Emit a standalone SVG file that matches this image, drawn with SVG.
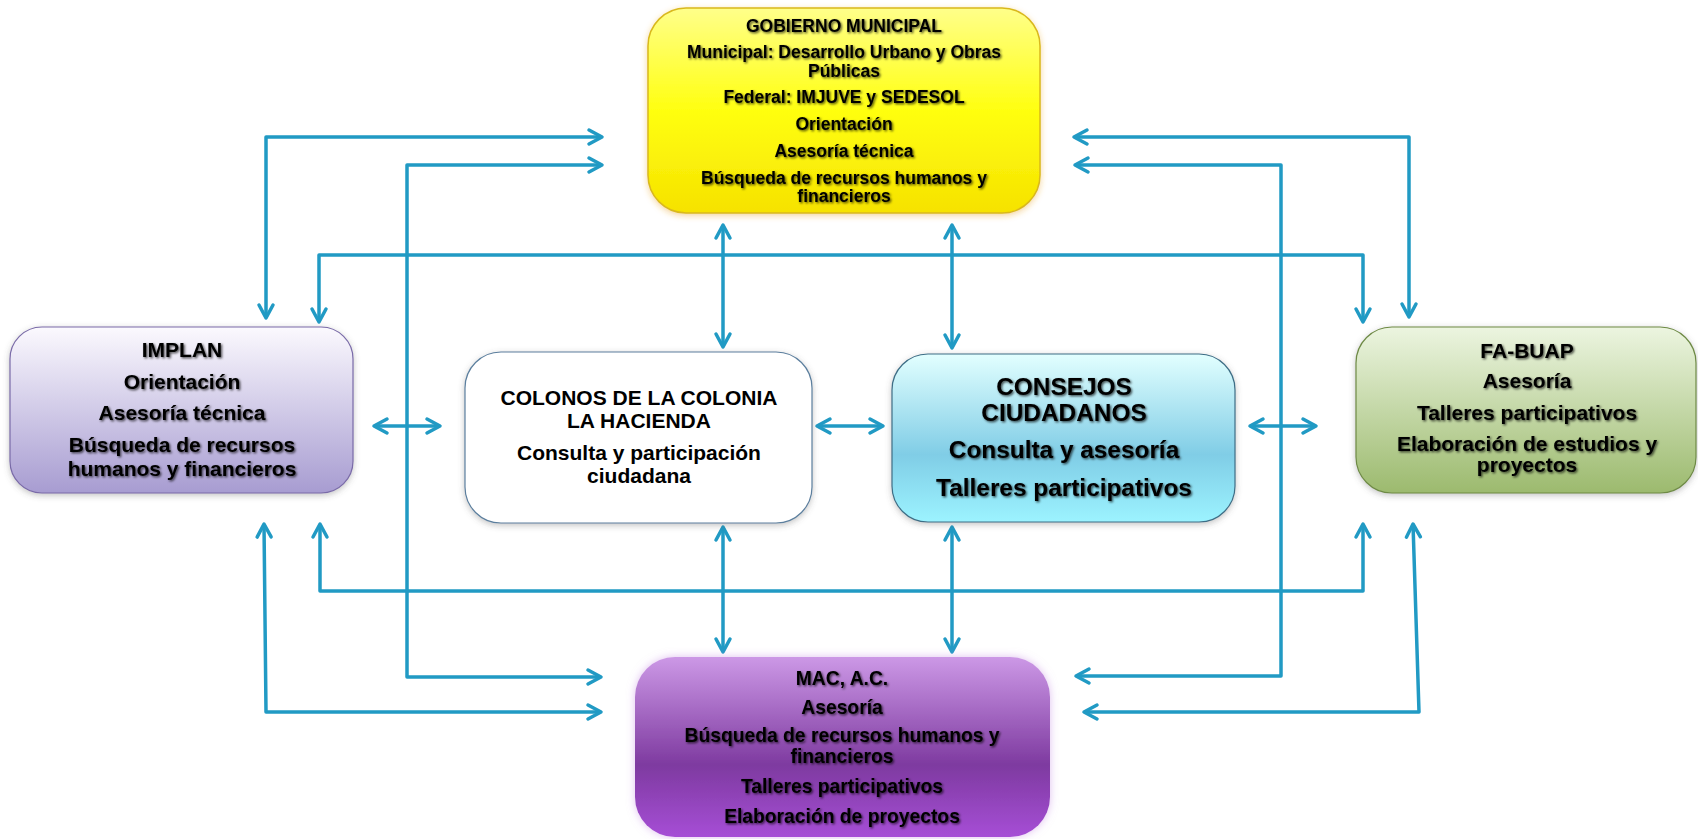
<svg xmlns="http://www.w3.org/2000/svg" width="1698" height="839" viewBox="0 0 1698 839">
<style>
  text { font-family: "Liberation Sans", Arial, sans-serif; font-weight: bold; fill: #000; text-anchor: middle; }
  .sh { filter: url(#tshadow); }
  .conn { fill: none; stroke: #219AC4; stroke-width: 3.5; stroke-linejoin: round; marker-start: url(#arr); marker-end: url(#arr); }
</style>
<defs>
  <marker id="arr" viewBox="-16 -10 20 20" markerWidth="20" markerHeight="20" refX="0" refY="0" markerUnits="userSpaceOnUse" orient="auto-start-reverse">
    <path d="M-13,-7 L0,0 L-13,7" fill="none" stroke="#219AC4" stroke-width="3.5" stroke-linecap="round" stroke-linejoin="round"/>
  </marker>
  <filter id="tshadow" x="-10%" y="-30%" width="120%" height="160%">
    <feDropShadow dx="1.3" dy="1.3" stdDeviation="1.1" flood-color="#000" flood-opacity="0.7"/>
  </filter>
  <filter id="bshadow" x="-10%" y="-10%" width="120%" height="125%">
    <feDropShadow dx="0" dy="2" stdDeviation="3" flood-color="#555" flood-opacity="0.35"/>
  </filter>
  <filter id="glowY" x="-10%" y="-10%" width="120%" height="125%">
    <feDropShadow dx="0" dy="2" stdDeviation="3" flood-color="#E8A020" flood-opacity="0.45"/>
  </filter>
  <filter id="glowP" x="-10%" y="-10%" width="120%" height="125%">
    <feDropShadow dx="0" dy="0" stdDeviation="4" flood-color="#C080E0" flood-opacity="0.5"/>
  </filter>
  <linearGradient id="gY" x1="0" y1="0" x2="0" y2="1">
    <stop offset="0" stop-color="#FFFF8A"/>
    <stop offset="0.5" stop-color="#FFFF10"/>
    <stop offset="1" stop-color="#F6E200"/>
  </linearGradient>
  <linearGradient id="gL" x1="0" y1="0" x2="0" y2="1">
    <stop offset="0" stop-color="#FBF9FE"/>
    <stop offset="1" stop-color="#A79CD1"/>
  </linearGradient>
  <linearGradient id="gC" x1="0" y1="0" x2="0" y2="1">
    <stop offset="0" stop-color="#E2FFFF"/>
    <stop offset="0.6" stop-color="#80CDE6"/>
    <stop offset="1" stop-color="#9CF3FF"/>
  </linearGradient>
  <linearGradient id="gG" x1="0" y1="0" x2="0" y2="1">
    <stop offset="0" stop-color="#ECF5E0"/>
    <stop offset="1" stop-color="#9CBA6E"/>
  </linearGradient>
  <linearGradient id="gM" x1="0" y1="0" x2="0" y2="1">
    <stop offset="0" stop-color="#CC98E6"/>
    <stop offset="0.6" stop-color="#7E3AA0"/>
    <stop offset="1" stop-color="#A64ED6"/>
  </linearGradient>
</defs>

<g id="connectors">
  <path class="conn" d="M266,318 L266,137 L602,137"/>
  <path class="conn" d="M601,677 L407,677 L407,165 L602,165"/>
  <path class="conn" d="M319,322 L319,255 L1363,255 L1363,322"/>
  <path class="conn" d="M1074,137 L1409,137 L1409,317"/>
  <path class="conn" d="M1075,165 L1281,165 L1281,676 L1076,676"/>
  <path class="conn" d="M320,524 L320,591 L1363,591 L1363,524"/>
  <path class="conn" d="M264,524 L266,712 L601,712"/>
  <path class="conn" d="M1413,524 L1419,712 L1084,712"/>
  <path class="conn" d="M723,225 L723,347"/>
  <path class="conn" d="M952,225 L952,348"/>
  <path class="conn" d="M723,527 L723,652"/>
  <path class="conn" d="M952,527 L952,652"/>
  <path class="conn" d="M374,426 L440,426"/>
  <path class="conn" d="M817,426 L883,426"/>
  <path class="conn" d="M1250,426 L1316,426"/>
</g>

<g id="gobierno">
  <rect x="648" y="8" width="392" height="205" rx="38" fill="url(#gY)" stroke="#D9B81C" stroke-width="1.5" filter="url(#glowY)"/>
  <g class="sh" font-size="17.5">
    <text x="844" y="32">GOBIERNO MUNICIPAL</text>
    <text x="844" y="58">Municipal:  Desarrollo Urbano y Obras</text>
    <text x="844" y="77">Públicas</text>
    <text x="844" y="103">Federal: IMJUVE  y SEDESOL</text>
    <text x="844" y="130">Orientación</text>
    <text x="844" y="157">Asesoría técnica</text>
    <text x="844" y="184">Búsqueda de recursos humanos y</text>
    <text x="844" y="202">financieros</text>
  </g>
</g>

<g id="implan">
  <rect x="10" y="327" width="343" height="166" rx="32" fill="url(#gL)" stroke="#7A6BA8" stroke-width="1.2" filter="url(#bshadow)"/>
  <g class="sh" font-size="21">
    <text x="182" y="357">IMPLAN</text>
    <text x="182" y="389">Orientación</text>
    <text x="182" y="420">Asesoría técnica</text>
    <text x="182" y="452">Búsqueda de recursos</text>
    <text x="182" y="476">humanos y financieros</text>
  </g>
</g>

<g id="colonos">
  <rect x="465" y="352" width="347" height="171" rx="36" fill="#FFFFFF" stroke="#5C7F9E" stroke-width="1.2" filter="url(#bshadow)"/>
  <g font-size="21">
    <text x="639" y="405">COLONOS  DE LA COLONIA</text>
    <text x="639" y="428">LA HACIENDA</text>
    <text x="639" y="460">Consulta y participación</text>
    <text x="639" y="483">ciudadana</text>
  </g>
</g>

<g id="consejos">
  <rect x="892" y="354" width="343" height="168" rx="36" fill="url(#gC)" stroke="#3E6E86" stroke-width="1.2" filter="url(#bshadow)"/>
  <g class="sh" font-size="24.4">
    <text x="1064" y="395">CONSEJOS</text>
    <text x="1064" y="421">CIUDADANOS</text>
    <text x="1064" y="458">Consulta y asesoría</text>
    <text x="1064" y="496">Talleres participativos</text>
  </g>
</g>

<g id="fabuap">
  <rect x="1356" y="327" width="340" height="166" rx="36" fill="url(#gG)" stroke="#6E8A45" stroke-width="1.2" filter="url(#bshadow)"/>
  <g class="sh" font-size="21">
    <text x="1527" y="358">FA-BUAP</text>
    <text x="1527" y="388">Asesoría</text>
    <text x="1527" y="420">Talleres participativos</text>
    <text x="1527" y="451">Elaboración de estudios y</text>
    <text x="1527" y="472">proyectos</text>
  </g>
</g>

<g id="mac">
  <rect x="635" y="657" width="415" height="180" rx="40" fill="url(#gM)" filter="url(#glowP)"/>
  <g class="sh" font-size="19.3">
    <text x="842" y="685">MAC, A.C.</text>
    <text x="842" y="714">Asesoría</text>
    <text x="842" y="742">Búsqueda de recursos humanos y</text>
    <text x="842" y="763">financieros</text>
    <text x="842" y="793">Talleres participativos</text>
    <text x="842" y="823">Elaboración de proyectos</text>
  </g>
</g>
</svg>
